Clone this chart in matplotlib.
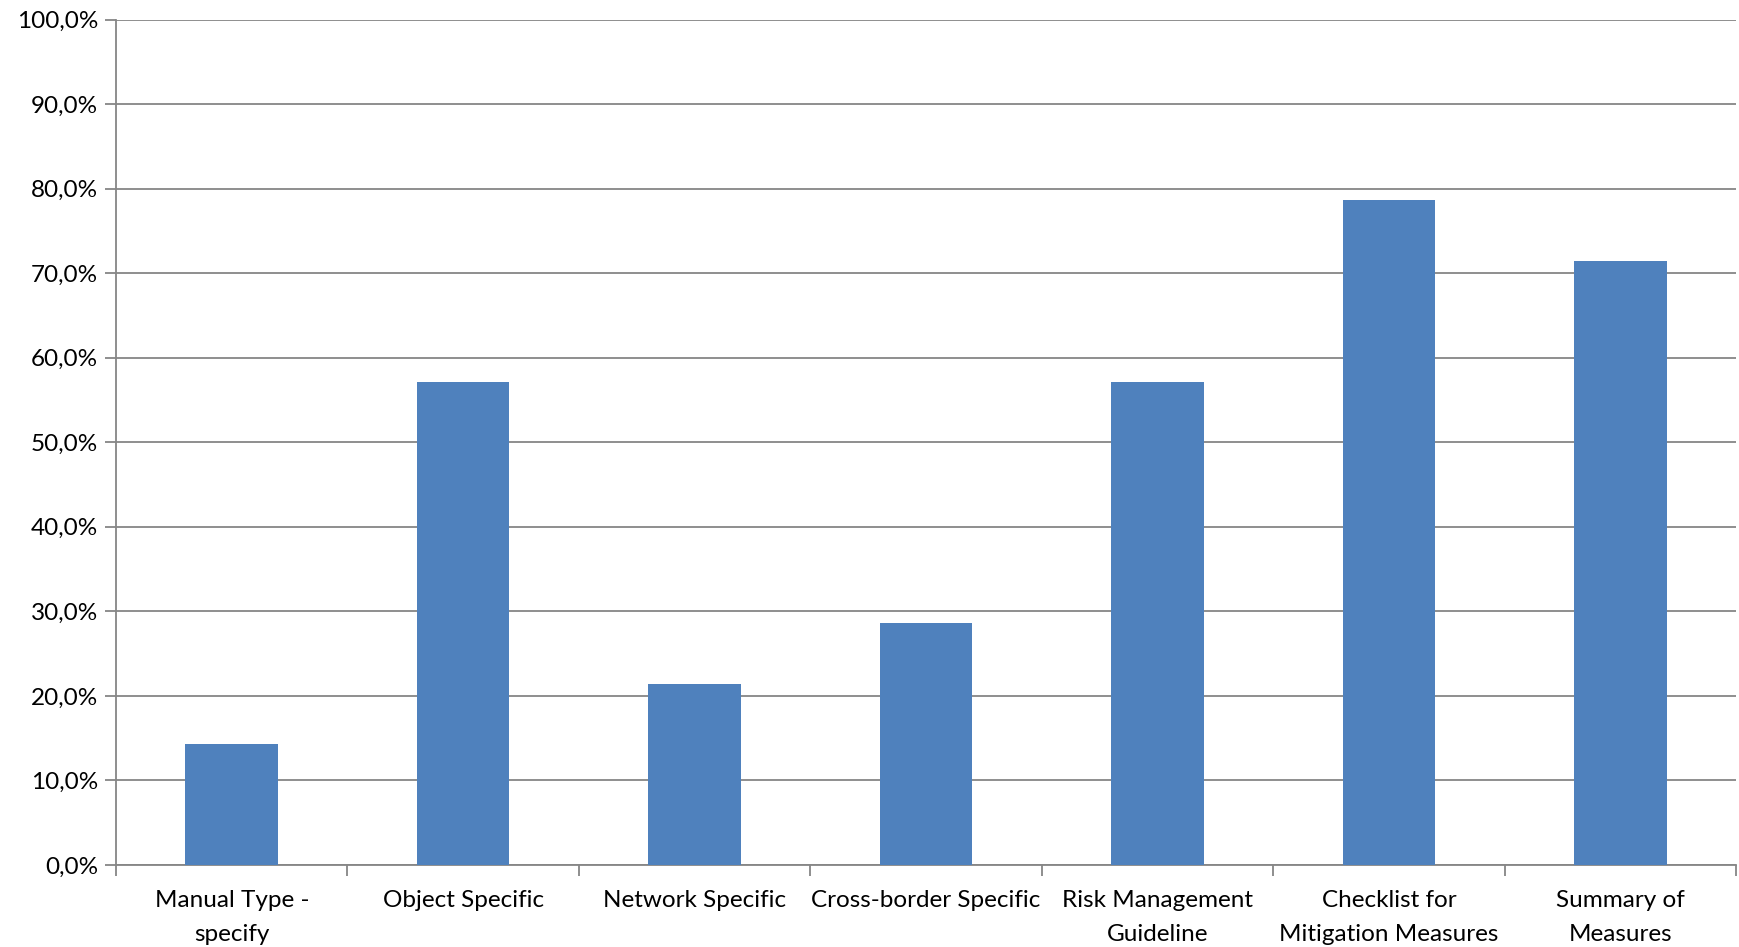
import numpy as np
import matplotlib.pyplot as plt

categories = ['Manual Type -\nspecify', 'Object Specific', 'Network Specific',
              'Cross-border Specific', 'Risk Management\nGuideline',
              'Checklist for\nMitigation Measures', 'Summary of\nMeasures']
values = [14.3, 57.1, 21.4, 28.6, 57.1, 78.6, 71.4]
yticks = np.arange(0, 101, 10)

plt.rcParams['font.family'] = ['Lato', 'DejaVu Sans']

fig = plt.figure(figsize=(17.4, 9.47), dpi=100)
ax = fig.add_axes([0.0667, 0.0866, 0.9310, 0.8928])

x = np.arange(len(categories))
ax.bar(x, values, width=0.4, color='#4F81BD', zorder=3)

ax.set_xlim(-0.5, len(categories) - 0.5)
ax.set_ylim(0, 100)
ax.set_yticks(yticks)
ax.set_yticklabels([f'{v:.1f}%'.replace('.', ',') for v in yticks], fontsize=17.5)
ax.yaxis.grid(True, color='#868686', linewidth=1.3, zorder=0)

ax.set_xticks(x)
ax.set_xticklabels(categories, fontsize=17.5, linespacing=1.75)
ax.set_xticks(np.arange(-0.5, len(categories)), minor=True)
ax.tick_params(axis='x', which='major', length=0, pad=18)
ax.tick_params(axis='x', which='minor', length=8, color='#868686', width=1.3)
ax.tick_params(axis='y', length=8, color='#868686', width=1.3, pad=5)

for s in ['top', 'right']:
    ax.spines[s].set_visible(False)
for s in ['left', 'bottom']:
    ax.spines[s].set_color('#868686')
    ax.spines[s].set_linewidth(1.3)

fig.savefig('out.png', dpi=100)
